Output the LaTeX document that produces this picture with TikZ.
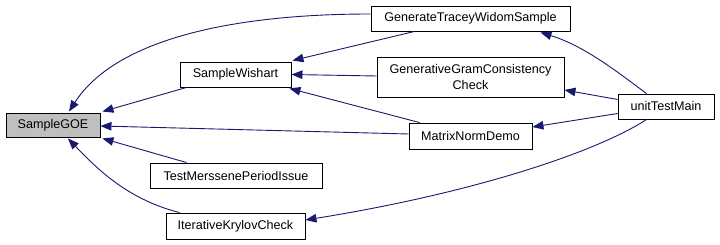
\documentclass[tikz,border=0pt]{standalone}
\usepackage{fontspec}
\setmainfont{Liberation Sans}
\usetikzlibrary{arrows.meta,calc}
\definecolor{edgeblue}{HTML}{191970}
\definecolor{focusgray}{HTML}{BFBFBF}
\tikzset{
  fn/.style={draw=black, line width=0.9pt, rectangle, inner sep=0pt, align=center,
    font=\fontsize{12.6}{15.5}\selectfont, fill=white},
  focus/.style={fn, fill=focusgray},
  calls/.style={draw=edgeblue, line width=0.9pt,
    -{Triangle[length=11pt,width=8.5pt,fill=edgeblue]}},
}
\begin{document}
\begin{tikzpicture}[x=1pt,y=-1pt]
\useasboundingbox (0,0) rectangle (720,245);
\fill[white] (0,0) rectangle (720,245);

% functions
\node[focus, minimum width=94pt, minimum height=24pt] (goe) at (53,125) {SampleGOE};
\node[fn, minimum width=111pt, minimum height=25pt] (wish) at (235.5,74.5) {SampleWishart};
\node[fn, minimum width=172pt, minimum height=25pt] (mers) at (236,175.5) {TestMerssenePeriodIssue};
\node[fn, minimum width=139pt, minimum height=26pt] (kry) at (235.5,226) {IterativeKrylovCheck};
\node[fn, minimum width=199pt, minimum height=25pt] (tw) at (470.5,18.5) {GenerateTraceyWidomSample};
\node[fn, minimum width=187pt, minimum height=40pt] (gram) at (470.5,77) {GenerativeGramConsistency\\Check};
\node[fn, minimum width=123pt, minimum height=26pt] (norm) at (470.5,136) {MatrixNormDemo};
\node[fn, minimum width=96pt, minimum height=25pt] (main) at (666,106.5) {unitTestMain};

% call edges (caller -> callee)
\draw[calls] ($(tw.west)+(0,-4.5)$) .. controls (230,14) and (115,40) .. ($(goe.north)+(16,-1)$);
\draw[calls] ($(tw.south west)+(44,0)$) -- ($(wish.north east)+(1,-1)$);
\draw[calls] ($(gram.west)+(0,-1)$) -- (wish.east);
\draw[calls] ($(norm.north west)+(11,0)$) -- ($(wish.south east)+(-2,1)$);
\draw[calls] ($(norm.west)+(0,-2)$) -- ($(goe.east)+(0,1)$);
\draw[calls] ($(wish.south west)+(7,0)$) -- ($(goe.north east)+(2,-1)$);
\draw[calls] ($(mers.north west)+(37,0)$) -- ($(goe.south east)+(2,1)$);
\draw[calls] ($(kry.north west)+(14,0)$) .. controls (130,200) and (100,172) .. ($(goe.south)+(15,1)$);
\draw[calls] ($(main.north west)+(29,0)$) .. controls (620,74) and (585,46) .. ($(tw.south east)+(-30,1)$);
\draw[calls] ($(main.west)+(0,-7)$) -- ($(gram.east)+(0,13)$);
\draw[calls] ($(main.west)+(0,7)$) -- ($(norm.east)+(0,-9)$);
\draw[calls] ($(main.south west)+(29,0)$) .. controls (600,150) and (480,192) .. ($(kry.east)+(0,-6)$);
\end{tikzpicture}
\end{document}
